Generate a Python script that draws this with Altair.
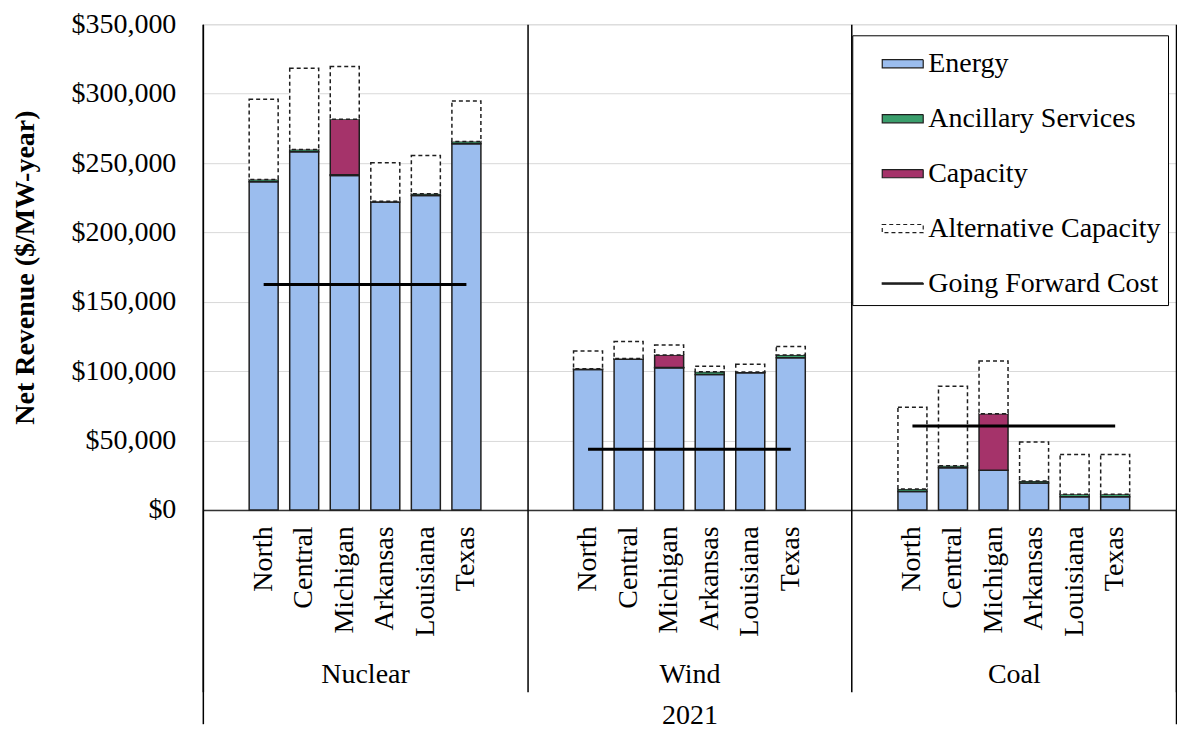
import altair as alt
import pandas as pd

# ---------------- data ----------------
technologies = ["Nuclear", "Wind", "Coal"]
regions = ["North", "Central", "Michigan", "Arkansas", "Louisiana", "Texas"]
year_label = ["2021"]
series_names = ["Energy", "Ancillary Services", "Capacity", "Alternative Capacity"]
gfc_name = "Going Forward Cost"
y_ticks = [0, 50000, 100000, 150000, 200000, 250000, 300000, 350000]

energy_nuclear = [236500, 258100, 241000, 222000, 226600, 263900]
energy_wind = [101200, 108500, 102400, 97600, 98800, 109700]
energy_coal = [13300, 30300, 28600, 19400, 9500, 9500]

ancillary_nuclear = [1700, 1700, 500, 500, 1200, 1700]
ancillary_wind = [600, 600, 300, 1900, 600, 2000]
ancillary_coal = [1700, 1500, 0, 1500, 1700, 1700]

capacity_nuclear = [0, 0, 40000, 0, 0, 0]
capacity_wind = [0, 0, 9000, 0, 0, 0]
capacity_coal = [0, 0, 40600, 0, 0, 0]

alt_capacity_nuclear = [57700, 58500, 38000, 27700, 27700, 29100]
alt_capacity_wind = [12800, 12300, 7200, 4100, 5500, 6000]
alt_capacity_coal = [59000, 57300, 38100, 28100, 28800, 28800]

going_forward_cost = [162400, 43700, 60400]  # Nuclear, Wind, Coal

# ---------------- tables ----------------
series_values = {
    "Nuclear": [energy_nuclear, ancillary_nuclear, capacity_nuclear, alt_capacity_nuclear],
    "Wind": [energy_wind, ancillary_wind, capacity_wind, alt_capacity_wind],
    "Coal": [energy_coal, ancillary_coal, capacity_coal, alt_capacity_coal],
}

key_domain = []
for t in technologies:
    key_domain.append(f"{t}|_L")
    key_domain += [f"{t}|{r}" for r in regions]
    key_domain.append(f"{t}|_R")

rows = []
for t in technologies:
    for si, s in enumerate(series_names):
        for ri, r in enumerate(regions):
            v = series_values[t][si][ri]
            if v > 0:
                rows.append({"tech": t, "key": f"{t}|{r}", "series": s, "value": v, "order": si})
bars_df = pd.DataFrame(rows)

gfc_rows = []
for t, v in zip(technologies, going_forward_cost):
    for r in regions:
        gfc_rows.append({"tech": t, "key": f"{t}|{r}", "value": v})
gfc_df = pd.DataFrame(gfc_rows)

legend_names = series_names + [gfc_name]
legend_df = pd.DataFrame({"series": legend_names})

# ---------------- styling ----------------
FONT = "Liberation Serif"
rect_path = "M-1,-0.2H1V0.2H-1Z"
line_path = "M-1,-0.03H1V0.03H-1Z"

fill_scale = alt.Scale(domain=legend_names,
                       range=["#9BBDEE", "#3A9E6C", "#A5336A", "#FFFFFF", "#000000"])
dash_scale = alt.Scale(domain=legend_names,
                       range=[[1, 0], [1, 0], [1, 0], [4, 3], [1, 0]])
shape_scale = alt.Scale(domain=legend_names,
                        range=[rect_path, rect_path, rect_path, rect_path, line_path])

legend_spec = alt.Legend(
    title=None, orient="none", legendX=650, legendY=11, direction="vertical",
    labelFont=FONT, labelFontSize=28, labelColor="black", labelOffset=4,
    symbolSize=1681, symbolStrokeWidth=1.2, symbolOpacity=1,
    rowPadding=19, padding=7, symbolOffset=22,
    strokeColor="black", fillColor="white", cornerRadius=0, labelLimit=400,
)

x_key = alt.X(
    "key:N",
    scale=alt.Scale(domain=key_domain, paddingInner=0.285, paddingOuter=0.1425),
    axis=alt.Axis(
        orient="bottom", title=None, labelAngle=-90, ticks=False,
        labelExpr="indexof(datum.value, '|_') >= 0 ? '' : split(datum.value, '|')[1]",
        labelPadding=16, labelFont=FONT, labelFontSize=28, labelColor="black",
        labelOverlap=False, domainColor="#333333", domainWidth=1.5,
    ),
)

y_val = alt.Y(
    "value:Q",
    stack="zero",
    scale=alt.Scale(domain=[0, 350000], nice=False),
    axis=alt.Axis(
        title="Net Revenue ($/MW-year)", format="$,.0f", values=y_ticks,
        grid=True, gridColor="#d9d9d9", gridWidth=1, ticks=False,
        domainColor="#333333", domainWidth=1.5,
        labelPadding=27, labelFont=FONT, labelFontSize=28, labelColor="black",
        titleFont=FONT, titleFontSize=28, titleFontWeight="bold", titleColor="black",
        titlePadding=31,
    ),
)

bars = alt.Chart(bars_df).mark_bar(stroke="#1f1f1f", strokeWidth=1.5).encode(
    x=x_key,
    y=y_val,
    fill=alt.Fill("series:N", scale=fill_scale, legend=legend_spec),
    strokeDash=alt.StrokeDash("series:N", scale=dash_scale),
    order=alt.Order("order:Q"),
)

gfc = alt.Chart(gfc_df).mark_line(color="black", strokeWidth=3).encode(
    x=alt.X("key:N"),
    y=alt.Y("value:Q"),
    detail="tech:N",
)

legend_pts = alt.Chart(legend_df).mark_point(
    filled=True, stroke="#1f1f1f", strokeWidth=1.2, opacity=0
).encode(
    x=alt.value(0),
    y=alt.value(0),
    fill=alt.Fill("series:N", scale=fill_scale, legend=legend_spec),
    shape=alt.Shape("series:N", scale=shape_scale),
    strokeDash=alt.StrokeDash("series:N", scale=dash_scale),
)

main = alt.layer(bars, gfc, legend_pts)

groups_df = pd.DataFrame({"tech": technologies})
group_layer = alt.Chart(groups_df).mark_rect(opacity=0).encode(
    x=alt.X(
        "tech:N", sort=technologies,
        scale=alt.Scale(type="band", paddingInner=0, paddingOuter=0),
        axis=alt.Axis(
            orient="bottom", title=None, labelAngle=0, tickBand="extent",
            tickSize=182, tickColor="black", tickWidth=1.5, domain=False,
            grid=True, gridColor="black", gridWidth=1.5,
            labelPadding=-31, labelFont=FONT, labelFontSize=28, labelColor="black",
        ),
    ),
)

year_df = pd.DataFrame({"year": year_label})
year_layer = alt.Chart(year_df).mark_rect(opacity=0).encode(
    x=alt.X(
        "year:N",
        scale=alt.Scale(type="band", paddingInner=0, paddingOuter=0),
        axis=alt.Axis(
            orient="bottom", title=None, labelAngle=0, tickBand="extent",
            tickSize=214, tickColor="black", tickWidth=1.5, domain=False, grid=False,
            labelPadding=-22, labelFont=FONT, labelFontSize=28, labelColor="black",
        ),
    ),
)

chart = (
    alt.layer(main, group_layer, year_layer)
    .resolve_scale(x="independent")
    .properties(width=974, height=486, padding={"left": 4, "top": 2, "right": 0, "bottom": 0})
    .configure_view(stroke="#333333", strokeWidth=1.5)
    .configure(background="white")
)

chart.save("out.html", embed_options={"renderer": "svg", "actions": False})
